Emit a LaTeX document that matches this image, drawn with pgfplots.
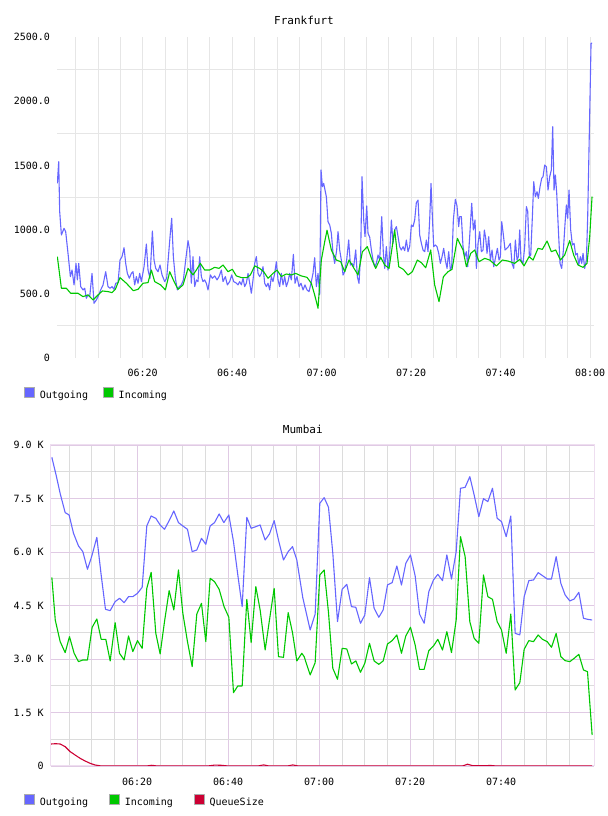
\documentclass[border=0pt]{standalone}
\usepackage{pgfplots}
\pgfplotsset{compat=1.18}
\usepackage{fontspec}
\setmainfont{DejaVu Sans Mono}

\definecolor{outblue}{RGB}{102,102,255}
\definecolor{ingreen}{RGB}{0,200,0}
\definecolor{qred}{RGB}{204,0,51}
\definecolor{fgrid}{RGB}{230,230,230}
\definecolor{mmajor}{RGB}{224,202,228}
\definecolor{mminor}{RGB}{220,220,220}
\definecolor{mframe}{RGB}{238,222,240}

\pgfplotsset{
  trafficaxis/.style={
    scale only axis,
    enlargelimits=false,
    tick style={draw=none},
    ticklabel style={font=\fontsize{10bp}{12bp}\selectfont},
    yticklabel style={anchor=east, xshift=-3.5bp},
    title style={font=\fontsize{11bp}{13bp}\selectfont, anchor=center},
    legend cell align=left,
    legend image code/.code={\path[##1, draw=gray!65, fill, line width=0.7bp] (0bp,-1.5bp) rectangle (10bp,8.5bp);},
    legend style={draw=none, fill=none, anchor=west, legend columns=-1, inner sep=0pt,
      font=\fontsize{10bp}{12bp}\selectfont, nodes={inner sep=0pt},
      /tikz/every odd column/.style={column sep=5bp}},
  },
  traffic/.style={line width=1.1bp, line join=round, mark=none},
}

\begin{document}
\begin{tikzpicture}
\path[use as bounding box] (0,0) rectangle (608bp,816bp);

% ---------------- Frankfurt ----------------
\begin{axis}[trafficaxis,
  at={(57bp,458bp)}, anchor=south west,
  width=537bp, height=321bp,
  xmin=0.85, xmax=120.85, ymin=0, ymax=2500,
  title={Frankfurt}, title style={at={(0.46,1)}, yshift=11bp},
  axis line style={draw=none},
  xtick={20,40,60,80,100,120},
  xticklabels={06:20,06:40,07:00,07:20,07:40,08:00},
  minor xtick={5,10,15,25,30,35,45,50,55,65,70,75,85,90,95,105,110,115},
  ytick={0,500,1000,1500,2000,2500},
  yticklabels={0,500.0,1000.0,1500.0,2000.0,2500.0},
  minor ytick={250,750,1250,1750,2250},
  xmajorgrids, xminorgrids, yminorgrids,
  major grid style={fgrid, line width=0.8bp},
  minor grid style={fgrid, line width=0.8bp},
  xticklabel style={anchor=center, yshift=-15bp},
  legend style={at={(-0.0615,-0.110)}, /tikz/every even column/.style={column sep=15bp}},
]
\addplot[traffic, color=outblue] table {
0.93 1360
1.23 1529
1.45 1140
1.83 958
2.42 1010
2.79 984
3.31 815
3.84 634
4.21 685
4.66 569
5.10 737
5.40 608
5.70 737
6.15 556
6.67 530
7.04 543
7.41 465
7.78 491
8.16 478
8.68 659
9.12 426
9.65 452
10.02 478
10.61 530
11.14 569
11.73 672
12.25 556
12.70 543
13.15 556
13.59 535
13.97 582
14.49 587
14.93 763
15.38 789
15.83 859
16.20 737
16.57 659
17.02 621
17.47 659
17.84 672
18.21 569
18.58 634
18.96 582
19.33 659
19.70 595
20.30 711
20.82 888
21.19 685
21.64 621
22.16 989
22.53 763
22.91 698
23.43 672
23.87 724
24.32 647
24.92 595
25.36 621
25.81 815
26.11 945
26.48 1088
26.85 789
27.30 621
27.75 530
28.19 556
28.64 569
29.09 608
29.61 763
30.13 914
30.50 841
30.87 582
31.24 789
31.62 556
31.99 608
32.36 595
32.73 789
33.11 634
33.48 595
33.85 608
34.22 582
34.60 530
35.12 647
35.57 621
36.09 639
36.61 608
37.06 634
37.58 685
37.95 595
38.47 634
38.92 569
39.44 595
39.89 647
40.33 595
40.78 587
41.30 569
41.67 595
42.05 569
42.42 621
42.79 556
43.16 582
43.54 659
43.91 582
44.28 504
44.65 608
45.03 737
45.40 789
45.77 659
46.14 634
46.51 659
46.89 711
47.26 582
47.63 556
48.00 582
48.38 530
48.75 634
49.12 595
49.49 659
49.87 750
50.24 608
50.61 556
50.98 659
51.36 569
51.73 634
52.10 556
52.47 595
52.85 659
53.22 608
53.67 807
54.04 582
54.48 634
54.93 556
55.38 582
55.83 530
56.27 569
56.72 530
57.17 517
57.61 582
58.06 659
58.43 781
58.81 556
59.18 659
59.55 491
59.85 1464
60.15 1334
60.44 1360
61.04 1256
61.41 1062
61.79 1036
62.16 971
62.53 815
62.90 737
63.35 841
63.65 984
64.02 841
64.39 763
64.77 646
65.14 672
65.58 763
66.03 919
66.41 724
66.78 737
67.15 711
67.60 841
67.97 633
68.34 581
68.71 815
69.01 1412
69.39 1075
69.68 945
70.06 1184
70.35 971
70.73 940
71.10 841
71.47 763
71.84 711
72.22 737
72.59 802
72.96 763
73.41 1101
73.78 815
74.08 698
74.45 867
74.82 685
75.20 815
75.57 1075
75.94 893
76.31 997
76.69 1023
77.06 945
77.43 867
77.80 841
78.18 867
78.55 836
78.92 919
79.29 828
79.66 867
80.04 1036
80.41 1023
80.78 1075
81.15 1210
81.53 1230
81.90 958
82.27 893
82.64 841
83.02 828
83.39 919
83.76 828
84.13 1075
84.43 1360
84.73 1101
85.03 867
85.40 880
85.77 867
86.15 815
86.52 737
86.89 789
87.26 854
87.63 763
88.01 698
88.38 828
88.75 685
89.05 711
89.42 1075
89.87 1236
90.24 1184
90.61 1023
90.84 1101
91.21 1101
91.58 867
91.96 789
92.33 828
92.63 711
93.07 945
93.52 1205
93.89 997
94.27 1075
94.56 698
94.94 893
95.31 984
95.68 828
96.05 841
96.35 997
96.65 932
96.95 815
97.32 945
97.69 763
98.07 841
98.44 711
98.88 789
99.26 854
99.63 763
99.93 789
100.23 1062
100.60 958
100.97 841
101.34 854
101.72 867
102.16 893
102.53 737
102.91 698
103.28 919
103.65 763
103.95 789
104.25 997
104.55 763
104.99 737
105.36 867
105.74 1179
106.04 1140
106.41 789
106.71 802
107.08 1101
107.38 1373
107.75 1256
108.12 1295
108.42 1243
108.79 1334
109.16 1399
109.46 1412
109.83 1503
110.21 1490
110.58 1308
110.95 1412
111.32 1464
111.62 1802
111.92 1308
112.22 1425
112.52 1282
112.89 997
113.26 737
113.63 698
114.01 841
114.38 1049
114.68 1192
114.97 1088
115.27 1308
115.64 997
116.02 880
116.39 893
116.76 802
117.13 815
117.43 724
117.80 789
118.10 737
118.40 815
118.77 698
119.15 763
119.44 1101
119.89 1905
120.19 2451
120.41 2451
};
\addlegendentry{Outgoing}
\addplot[traffic, color=ingreen] table {
0.93 789
1.83 543
2.94 543
3.91 504
5.55 504
6.67 478
7.78 491
8.90 452
10.02 491
10.99 522
12.25 517
13.15 509
13.89 535
14.93 626
16.35 582
17.91 524
18.96 535
20.07 582
21.19 587
21.94 685
22.68 595
24.02 569
25.07 530
26.04 672
27.01 595
27.90 535
29.01 569
30.13 698
31.24 647
31.99 685
32.88 737
33.85 685
34.97 685
36.09 706
37.06 698
37.95 724
39.07 672
40.03 691
40.93 639
42.05 626
43.31 626
44.06 647
45.03 717
46.14 698
47.04 672
48.00 621
49.12 659
50.02 685
50.98 634
52.10 654
53.22 647
54.19 659
55.45 639
56.72 628
57.69 582
58.43 491
59.18 387
59.92 763
60.67 905
61.19 995
62.16 841
63.28 763
64.24 750
65.14 672
66.11 763
67.00 711
68.12 646
69.09 828
70.20 867
71.25 763
72.07 698
73.18 784
74.08 724
75.05 698
76.31 997
77.21 711
78.25 690
79.29 646
80.26 672
81.38 763
82.27 742
83.24 703
84.36 841
85.25 568
86.22 439
87.19 633
88.23 672
89.12 690
90.32 932
90.84 893
91.58 841
92.33 711
93.30 815
94.19 841
95.16 750
96.43 776
97.54 763
99.03 717
100.38 763
101.64 755
103.13 737
104.25 768
105.22 717
106.33 789
107.23 763
108.34 854
109.31 846
110.36 911
111.32 828
112.29 841
113.34 763
114.30 802
115.42 914
116.31 802
117.28 724
118.40 706
119.29 737
119.89 945
120.41 1256
};
\addlegendentry{Incoming}
\end{axis}

% ---------------- Mumbai ----------------
\begin{axis}[trafficaxis,
  at={(50.7bp,50bp)}, anchor=south west,
  width=543.3bp, height=321bp,
  xmin=1.0, xmax=120.4, ymin=0, ymax=9000,
  title={Mumbai}, title style={at={(0.464,1)}, yshift=10bp},
  axis line style={draw=mframe, line width=1bp},
  xtick={20,40,60,80,100},
  xticklabels={06:20,06:40,07:00,07:20,07:40},
  minor xtick={5,10,15,25,30,35,45,50,55,65,70,75,85,90,95,105,110,115},
  ytick={0,1500,3000,4500,6000,7500,9000},
  yticklabels={0,1.5 K,3.0 K,4.5 K,6.0 K,7.5 K,9.0 K},
  minor ytick={750,2250,3750,5250,6750,8250},
  xmajorgrids, xminorgrids, ymajorgrids, yminorgrids,
  major grid style={mmajor, line width=0.8bp},
  minor grid style={mminor, line width=0.8bp},
  xticklabel style={anchor=center, yshift=-16bp},
  legend style={at={(-0.0491,-0.107)}, /tikz/every even column/.style={column sep=21bp}},
]
\addplot[traffic, color=outblue] table {
1.25 8655
2.20 8150
3.10 7630
4.18 7104
5.05 7038
6.01 6524
7.11 6169
8.06 6010
9.08 5515
10.04 5889
11.14 6412
12.09 5356
13.04 4393
14.07 4356
15.16 4608
16.12 4702
17.14 4580
18.10 4748
19.05 4748
20.07 4842
21.10 5010
22.12 6730
23.08 7010
24.10 6945
25.05 6758
26.01 6636
27.03 6879
28.06 7150
29.08 6823
30.04 6730
31.06 6636
32.09 6010
33.11 6057
34.14 6384
35.09 6216
36.04 6730
37.00 6823
38.02 7066
39.05 6823
40.15 7038
41.17 6291
42.12 5356
43.08 4468
44.10 6973
45.05 6664
46.08 6711
47.03 6758
48.13 6337
49.08 6505
50.11 6879
51.06 6337
52.16 5776
53.19 6010
54.14 6150
55.09 5776
56.40 4720
58.02 3814
59.12 4262
60.14 7365
61.10 7524
62.05 7253
63.00 5963
64.03 4047
65.05 4954
66.08 5094
67.10 4468
68.06 4450
69.08 4001
70.03 4234
71.06 5281
72.08 4421
73.11 4169
74.06 4374
75.02 5076
76.04 5141
77.07 5608
78.09 5076
79.04 5683
80.07 5917
81.10 5328
82.05 4262
83.07 4001
84.10 4889
85.12 5216
86.08 5374
87.10 5197
88.06 5917
89.08 5244
90.11 6010
91.06 7786
92.08 7814
93.11 8113
94.06 7599
95.09 6992
96.11 7496
97.07 7412
98.09 7786
99.12 6945
100.07 6852
101.10 6431
102.12 7010
103.07 3720
104.10 3674
105.05 4748
106.08 5197
107.10 5216
108.13 5421
109.08 5337
110.11 5244
111.06 5244
112.08 5870
113.11 5122
114.06 4795
115.09 4627
116.04 4683
117.07 4870
118.09 4141
118.97 4113
119.99 4094
};
\addlegendentry{Outgoing}
\addplot[traffic, color=ingreen] table {
1.25 5290
2.00 4094
3.08 3487
4.18 3178
5.13 3627
6.15 3160
7.11 2926
8.06 2973
9.08 2973
10.11 3889
11.14 4122
12.09 3552
13.11 3552
14.07 2945
15.16 4019
16.12 3160
17.14 2973
18.10 3646
19.05 3206
20.07 3515
21.10 3300
22.12 4982
23.08 5430
24.10 3720
25.05 3141
26.01 4047
27.03 4917
28.06 4374
29.08 5496
30.04 4281
31.06 3487
32.09 2786
33.11 4262
34.14 4561
35.09 3487
36.04 5262
37.00 5169
38.02 4954
39.10 4468
40.15 4169
41.17 2057
42.12 2243
43.08 2243
44.10 4673
45.05 3459
46.08 5029
47.03 4374
48.13 3253
49.08 4094
50.11 4982
51.06 3066
52.16 3047
53.19 4300
54.14 3739
55.09 2945
56.19 3160
56.70 3066
58.02 2552
59.12 2898
60.14 5356
61.10 5496
62.05 4300
63.00 2739
64.03 2430
65.05 3300
66.08 3281
67.10 2860
68.06 2945
69.08 2627
70.03 2879
71.06 3440
72.08 2945
73.11 2851
74.06 2945
75.02 3421
76.04 3515
77.07 3674
78.09 3160
79.04 3646
80.07 3889
81.10 3393
82.05 2711
83.07 2711
84.10 3234
85.12 3365
86.08 3552
87.10 3253
88.06 3767
89.08 3178
90.11 4094
91.06 6431
92.08 5870
93.11 4047
94.06 3580
95.09 3440
96.11 5356
97.07 4748
98.09 4673
99.12 4047
100.07 3814
101.10 3160
102.12 4262
103.07 2131
104.10 2337
105.05 3272
106.08 3515
107.10 3487
108.13 3674
109.08 3552
110.11 3487
111.06 3328
112.08 3720
113.11 3066
114.06 2954
115.09 2926
116.04 3019
117.07 3131
118.09 2692
118.97 2645
119.99 869
};
\addlegendentry{Incoming}
\addplot[traffic, color=qred] table {
1.10 617
2.10 625
3.08 617
4.18 542
5.28 402
6.37 308
7.47 215
8.57 140
9.67 75
10.77 28
11.87 5
13.00 0
22.00 0
23.20 20
24.40 0
35.50 0
37.00 25
38.50 20
40.00 0
46.50 0
47.80 30
49.00 0
53.00 0
54.20 30
55.40 0
91.50 0
92.60 50
93.70 10
96.50 10
97.70 15
99.00 0
119.99 0
};
\addlegendentry{QueueSize}
\end{axis}
\end{tikzpicture}
\end{document}
